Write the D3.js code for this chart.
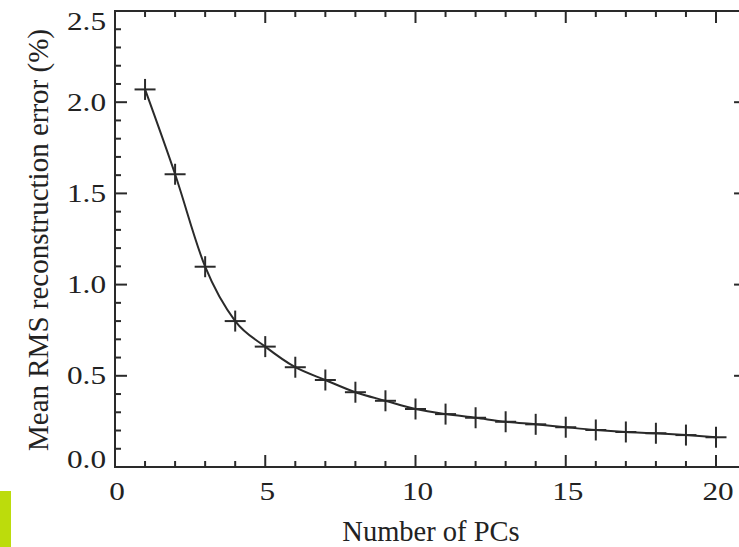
<!DOCTYPE html>
<html>
<head>
<meta charset="utf-8">
<script src="https://cdn.jsdelivr.net/npm/d3@7"></script>
<style>
  html, body { margin: 0; padding: 0; background: #fff; }
  svg { display: block; }
  text { font-family: "Liberation Serif", "DejaVu Serif", serif; fill: #222; }
</style>
</head>
<body>
<svg id="chart" width="739" height="547"></svg>
<script>
// Mean RMS reconstruction error vs. number of principal components retained
const numPCs = d3.range(1, 21);
const rmsError = [2.07, 1.605, 1.098, 0.80, 0.66, 0.547, 0.477, 0.41, 0.363, 0.318,
                  0.29, 0.27, 0.248, 0.234, 0.218, 0.203, 0.192, 0.185, 0.175, 0.163];
const xMajorTicks = [0, 5, 10, 15, 20];
const yMajorTicks = [0, 0.5, 1.0, 1.5, 2.0, 2.5];

const svg = d3.select("#chart");
const W = 739, H = 547;
const plotLeft = 115, plotTop = 11, plotBottom = 467;

const x = d3.scaleLinear().domain([0, 21]).range([plotLeft, plotLeft + 21 * 30.05]);
const y = d3.scaleLinear().domain([0, 2.5]).range([plotBottom, plotTop]);
const plotRight = x(21);

const ink = "#2a2a2a";
const majorLen = 12, minorLen = 6;
const labelFont = "Liberation Serif";

// plot frame
const frame = svg.append("g");
frame.append("rect")
  .attr("x", plotLeft).attr("y", plotTop)
  .attr("width", plotRight - plotLeft).attr("height", plotBottom - plotTop)
  .attr("fill", "none").attr("stroke", ink).attr("stroke-width", 2);

// inward ticks on all four sides
const xMinor = d3.range(0, 22, 1).filter(v => v % 5 !== 0);
const yMinor = d3.range(0, 26, 1).map(v => v / 10).filter(v => Math.round(v * 10) % 5 !== 0);

function xTicks(vals, len) {
  vals.forEach(v => {
    frame.append("line").attr("x1", x(v)).attr("x2", x(v))
      .attr("y1", plotBottom).attr("y2", plotBottom - len)
      .attr("stroke", ink).attr("stroke-width", 2);
    frame.append("line").attr("x1", x(v)).attr("x2", x(v))
      .attr("y1", plotTop).attr("y2", plotTop + len)
      .attr("stroke", ink).attr("stroke-width", 2);
  });
}
function yTicks(vals, len) {
  vals.forEach(v => {
    frame.append("line").attr("x1", plotLeft).attr("x2", plotLeft + len)
      .attr("y1", y(v)).attr("y2", y(v))
      .attr("stroke", ink).attr("stroke-width", 2);
    frame.append("line").attr("x1", plotRight).attr("x2", plotRight - len)
      .attr("y1", y(v)).attr("y2", y(v))
      .attr("stroke", ink).attr("stroke-width", 2);
  });
}
xTicks(xMajorTicks, majorLen);
xTicks(xMinor, minorLen);
yTicks(yMajorTicks, majorLen);
yTicks(yMinor, minorLen);

// tick labels (wide numerals)
const stretch = 1.25;
svg.append("g").selectAll("text").data(xMajorTicks).join("text")
  .attr("transform", d => `translate(${x(d) + 2},500) scale(${stretch},1)`)
  .attr("text-anchor", "middle")
  .attr("font-family", labelFont)
  .style("font-size", "25px")
  .text(d => d3.format("d")(d));

// end labels are kept inside the frame's vertical extent
function yLabelCenter(v) {
  return Math.min(Math.max(y(v), 21), 459);
}
svg.append("g").selectAll("text").data(yMajorTicks).join("text")
  .attr("transform", d => `translate(106,${yLabelCenter(d) + 8.5}) scale(${stretch},1)`)
  .attr("text-anchor", "end")
  .attr("font-family", labelFont)
  .style("font-size", "25px")
  .text(d => d3.format(".1f")(d));

// axis titles
svg.append("text")
  .attr("x", 431).attr("y", 541)
  .attr("text-anchor", "middle")
  .attr("font-family", labelFont)
  .style("font-size", "28.5px")
  .text("Number of PCs");

svg.append("text")
  .attr("transform", "translate(48,240) rotate(-90)")
  .attr("text-anchor", "middle")
  .attr("font-family", labelFont)
  .style("font-size", "29px")
  .text("Mean RMS reconstruction error (%)");

// data curve
const pts = numPCs.map((n, i) => [n, rmsError[i]]);
const line = d3.line().x(d => x(d[0])).y(d => y(d[1])).curve(d3.curveMonotoneX);
svg.append("path").datum(pts)
  .attr("d", line)
  .attr("fill", "none").attr("stroke", ink).attr("stroke-width", 2);

// plus markers
const m = 10.5;
const markers = svg.append("g").attr("stroke", ink).attr("stroke-width", 2);
pts.forEach(d => {
  const cx = x(d[0]), cy = y(d[1]);
  markers.append("line").attr("x1", cx - m).attr("x2", cx + m).attr("y1", cy).attr("y2", cy);
  markers.append("line").attr("x1", cx).attr("x2", cx).attr("y1", cy - m).attr("y2", cy + m);
});

// corner tab
svg.append("rect")
  .attr("x", 0).attr("y", 491).attr("width", 11).attr("height", H - 491)
  .attr("fill", "#bcdc0c");
</script>
</body>
</html>
